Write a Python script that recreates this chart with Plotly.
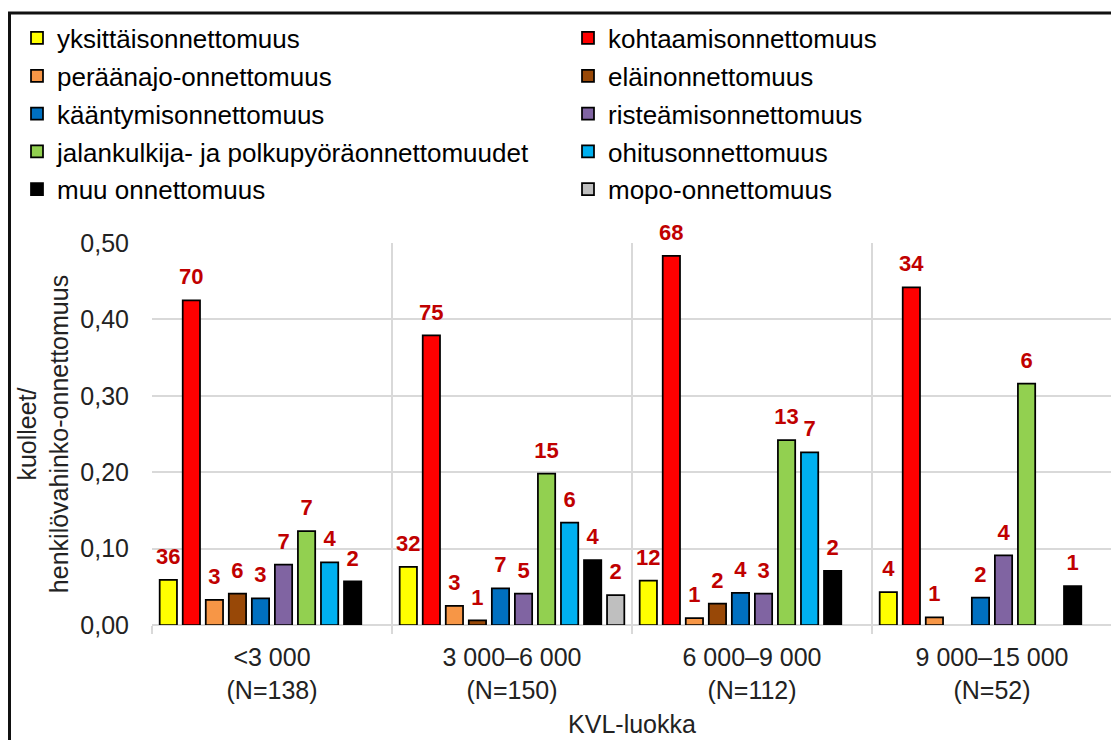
import plotly.graph_objects as go

categories = ["<3 000<br>(N=138)", "3 000–6 000<br>(N=150)", "6 000–9 000<br>(N=112)", "9 000–15 000<br>(N=52)"]

series_names = [
    "yksittäisonnettomuus", "kohtaamisonnettomuus", "peräänajo-onnettomuus", "eläinonnettomuus",
    "kääntymisonnettomuus", "risteämisonnettomuus", "jalankulkija- ja polkupyöräonnettomuudet",
    "ohitusonnettomuus", "muu onnettomuus", "mopo-onnettomuus",
]

yksittais = [0.059, 0.076, 0.058, 0.043]
kohtaamis = [0.425, 0.379, 0.483, 0.442]
peraanajo = [0.033, 0.025, 0.009, 0.010]
elain = [0.041, 0.006, 0.028, None]
kaantymis = [0.035, 0.048, 0.042, 0.036]
risteamis = [0.079, 0.041, 0.041, 0.091]
jalankulkija = [0.123, 0.198, 0.242, 0.316]
ohitus = [0.082, 0.134, 0.226, None]
muu = [0.057, 0.085, 0.071, 0.051]
mopo = [None, 0.039, None, None]

n_yksittais = [36, 32, 12, 4]
n_kohtaamis = [70, 75, 68, 34]
n_peraanajo = [3, 3, 1, 1]
n_elain = [6, 1, 2, None]
n_kaantymis = [3, 7, 4, 2]
n_risteamis = [7, 5, 3, 4]
n_jalankulkija = [7, 15, 13, 6]
n_ohitus = [4, 6, 7, None]
n_muu = [2, 4, 2, 1]
n_mopo = [None, 2, None, None]

values = [yksittais, kohtaamis, peraanajo, elain, kaantymis, risteamis, jalankulkija, ohitus, muu, mopo]
counts = [n_yksittais, n_kohtaamis, n_peraanajo, n_elain, n_kaantymis, n_risteamis,
          n_jalankulkija, n_ohitus, n_muu, n_mopo]
colors = ["#FFFF00", "#FF0000", "#F79646", "#984807", "#0070C0", "#8064A2",
          "#92D050", "#00B0F0", "#000000", "#BFBFBF"]

FONT = "Arial, Liberation Sans, sans-serif"
TXT = "#222222"

fig = go.Figure()
for i, (name, vals, col) in enumerate(zip(series_names, values, colors)):
    fig.add_trace(go.Bar(
        x=categories, y=vals, name=name,
        marker=dict(color=col, line=dict(color="black", width=1.75)),
        legend="legend" if i % 2 == 0 else "legend2",
        legendgroup=f"g{i}",
        hoverinfo="skip",
    ))

for i, (vals, cnts) in enumerate(zip(values, counts)):
    fig.add_trace(go.Scatter(
        x=categories, y=vals,
        text=["" if c is None else str(c) for c in cnts],
        mode="markers+text", textposition="top center",
        marker=dict(size=15, opacity=0),
        textfont=dict(family=FONT, size=22, color="#C00000", weight="bold"),
        orientation="v",
        showlegend=False, hoverinfo="skip", cliponaxis=False,
    ))

# page body margin offsets the figure by 8 px
OFF = 8
W, H = 1119 - OFF, 740 - OFF
L = 152 - OFF
T = 243 - OFF
R = W - (1112 - OFF)
B = H - (631 - OFF)
pw, ph = W - L - R, H - T - B


def px_x(x):
    return (x - L) / pw


def px_y(y):
    return (H - B - y) / ph


fig.update_layout(
    width=W, height=H,
    margin=dict(l=L, r=R, t=T, b=B),
    paper_bgcolor="white", plot_bgcolor="white",
    font=dict(family=FONT, size=25, color=TXT),
    barmode="group", bargap=0.04, bargroupgap=0.25,
    scattermode="group", scattergap=0.04,
    separators=", ",
    legend=dict(x=px_x(9), y=px_y(3), xanchor="left", yanchor="top",
                font=dict(family=FONT, size=26, color="black"),
                tracegroupgap=1, bgcolor="rgba(0,0,0,0)"),
    legend2=dict(x=px_x(560), y=px_y(3), xanchor="left", yanchor="top",
                 font=dict(family=FONT, size=26, color="black"),
                 tracegroupgap=1, bgcolor="rgba(0,0,0,0)"),
    xaxis=dict(
        type="category", range=[-0.5, 3.5], tickson="boundaries",
        showgrid=True, gridcolor="#D9D9D9", gridwidth=1.5,
        ticks="outside", ticklen=8, tickcolor="#D9D9D9", tickwidth=1.5,
        ticklabelstandoff=15,
        tickfont=dict(size=25, color=TXT),
        title=dict(text="KVL-luokka", font=dict(size=25, color=TXT), standoff=12),
        showline=False, zeroline=False,
    ),
    yaxis=dict(
        range=[0, 0.5], dtick=0.1, tickformat=".2f",
        showgrid=True, gridcolor="#D9D9D9", gridwidth=1.5,
        zeroline=True, zerolinecolor="#D9D9D9", zerolinewidth=1.5,
        tickfont=dict(size=25, color=TXT), ticklabelstandoff=22,
        title=dict(text="kuolleet/<br>henkilövahinko-onnettomuus", font=dict(size=25, color=TXT), standoff=4),
        showline=False,
    ),
    shapes=[dict(type="rect", xref="paper", yref="paper",
                 x0=px_x(1.5), x1=px_x(1130), y0=px_y(760), y1=px_y(1.5),
                 line=dict(color="#111111", width=3), fillcolor="rgba(0,0,0,0)", layer="above")],
)

fig.write_html("out.html")
